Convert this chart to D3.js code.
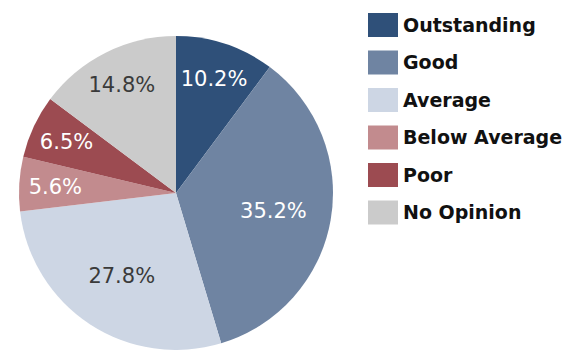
<!DOCTYPE html>
<html>
<head>
<meta charset="utf-8">
<script src="https://cdn.jsdelivr.net/npm/d3@7"></script>
<style>
  body { margin: 0; background: #ffffff; }
  svg { display: block; }
</style>
</head>
<body>
<svg id="chart" width="569" height="350"></svg>
<script>
const categories = ["Outstanding", "Good", "Average", "Below Average", "Poor", "No Opinion"];
const values = [10.2, 35.2, 27.8, 5.6, 6.5, 14.8];
const labels = ["10.2%", "35.2%", "27.8%", "5.6%", "6.5%", "14.8%"];

const colors = ["#2f5079", "#6f84a2", "#cdd6e4", "#c28b8e", "#9c4b51", "#cbcbcb"];
const labelColors = ["#ffffff", "#ffffff", "#3a3a3a", "#ffffff", "#ffffff", "#3a3a3a"];

const svg = d3.select("#chart");
const cx = 176, cy = 193, R = 157;

const data = categories.map((c, i) => ({ cat: c, value: values[i], label: labels[i], i }));
const pie = d3.pie().value(d => d.value).sort(null);
const arcs = pie(data);
const arc = d3.arc().innerRadius(0).outerRadius(R);

const g = svg.append("g").attr("transform", `translate(${cx},${cy})`);
g.selectAll("path").data(arcs).enter().append("path")
  .attr("d", arc)
  .attr("fill", d => colors[d.data.i]);

g.selectAll("text").data(arcs).enter().append("text")
  .attr("transform", d => {
    const r = d.data.value > 20 ? R * 0.63 : R * 0.77;
    const a = (d.startAngle + d.endAngle) / 2;
    return `translate(${Math.sin(a) * r},${-Math.cos(a) * r})`;
  })
  .attr("text-anchor", "middle")
  .attr("dy", "0.36em")
  .attr("font-family", "'DejaVu Sans', sans-serif")
  .attr("font-size", 21)
  .attr("fill", d => labelColors[d.data.i])
  .text(d => d.data.label);

const legend = svg.append("g").attr("transform", "translate(368,13)");
const rowH = 37.5;
const lg = legend.selectAll("g").data(categories).enter().append("g")
  .attr("transform", (d, i) => `translate(0,${i * rowH})`);
lg.append("rect").attr("width", 30).attr("height", 24)
  .attr("fill", (d, i) => colors[i]);
lg.append("text").attr("x", 35).attr("y", 12).attr("dy", "0.36em")
  .attr("font-family", "'DejaVu Sans', sans-serif")
  .attr("font-weight", "bold")
  .attr("font-size", 19)
  .attr("fill", "#111")
  .text(d => d);
</script>
</body>
</html>
